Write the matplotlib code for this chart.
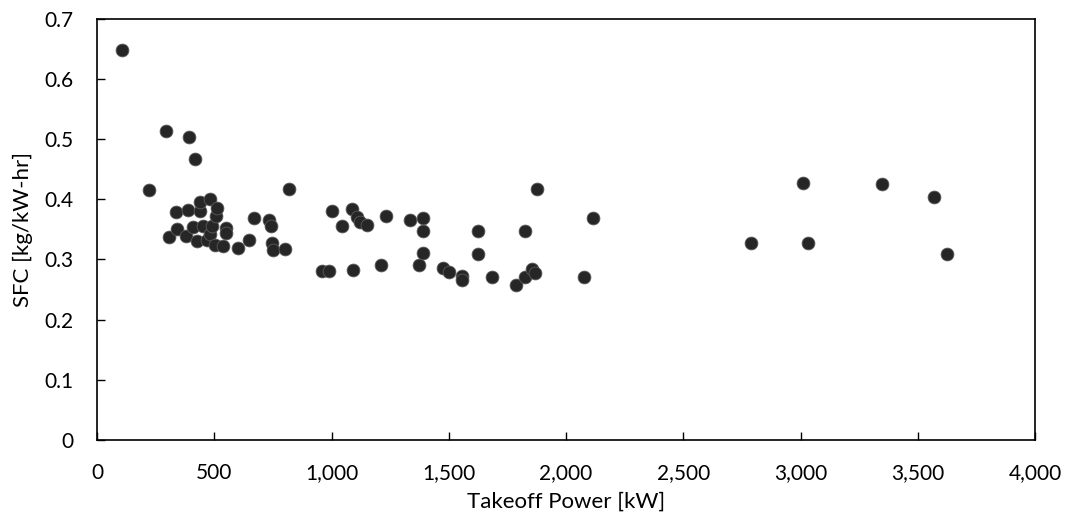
import matplotlib.pyplot as plt
from matplotlib.ticker import FuncFormatter, MultipleLocator

# data
takeoff_power_kw = [107, 223, 293, 308, 337, 342, 379, 389, 394, 411,
                    418, 425, 439, 439, 453, 468, 482, 482, 489, 503,
                    507, 510, 539, 550, 550, 600, 650, 671, 734, 740,
                    745, 752, 802, 819, 958, 989, 1003, 1043, 1086, 1093,
                    1110, 1121, 1153, 1210, 1232, 1335, 1375, 1392, 1392, 1392,
                    1477, 1502, 1555, 1555, 1623, 1623, 1683, 1787, 1825, 1825,
                    1853, 1868, 1875, 2077, 2113, 2788, 3009, 3031, 3346, 3569,
                    3623]
sfc = [0.648, 0.415, 0.514, 0.337, 0.378, 0.351, 0.339, 0.382, 0.504, 0.354,
       0.467, 0.330, 0.380, 0.396, 0.355, 0.333, 0.400, 0.342, 0.355, 0.324,
       0.372, 0.385, 0.323, 0.352, 0.344, 0.319, 0.333, 0.369, 0.366, 0.356,
       0.328, 0.316, 0.317, 0.417, 0.281, 0.281, 0.380, 0.355, 0.384, 0.282,
       0.371, 0.363, 0.357, 0.290, 0.373, 0.365, 0.291, 0.369, 0.348, 0.310,
       0.285, 0.279, 0.272, 0.266, 0.348, 0.309, 0.270, 0.258, 0.270, 0.348,
       0.284, 0.277, 0.417, 0.271, 0.369, 0.327, 0.427, 0.327, 0.425, 0.403,
       0.309]

plt.rcParams['font.family'] = ['Lato', 'DejaVu Sans']

fig = plt.figure(figsize=(10.66, 5.23), dpi=100)
ax = fig.add_axes([0.091, 0.159, 0.880, 0.805])

ax.scatter(takeoff_power_kw, sfc, s=85, color='#262626', edgecolors='#5a5a5a',
           linewidths=0.6, zorder=3)

ax.set_xlim(0, 4000)
ax.set_ylim(0, 0.7)
ax.xaxis.set_major_locator(MultipleLocator(500))
ax.yaxis.set_major_locator(MultipleLocator(0.1))
ax.xaxis.set_major_formatter(FuncFormatter(lambda v, p: f'{int(v):,}'))
ax.yaxis.set_major_formatter(FuncFormatter(lambda v, p: '0' if v == 0 else f'{v:.1f}'))

ax.tick_params(axis='both', direction='in', length=6, width=1, labelsize=15)
ax.tick_params(axis='x', pad=17)
ax.tick_params(axis='y', pad=17)
for sp in ax.spines.values():
    sp.set_linewidth(1.2)
    sp.set_color('black')

ax.set_xlabel('Takeoff Power [kW]', fontsize=16, labelpad=6)
ax.set_ylabel('SFC [kg/kW-hr]', fontsize=16, labelpad=8)

fig.savefig('out.png', dpi=100)
